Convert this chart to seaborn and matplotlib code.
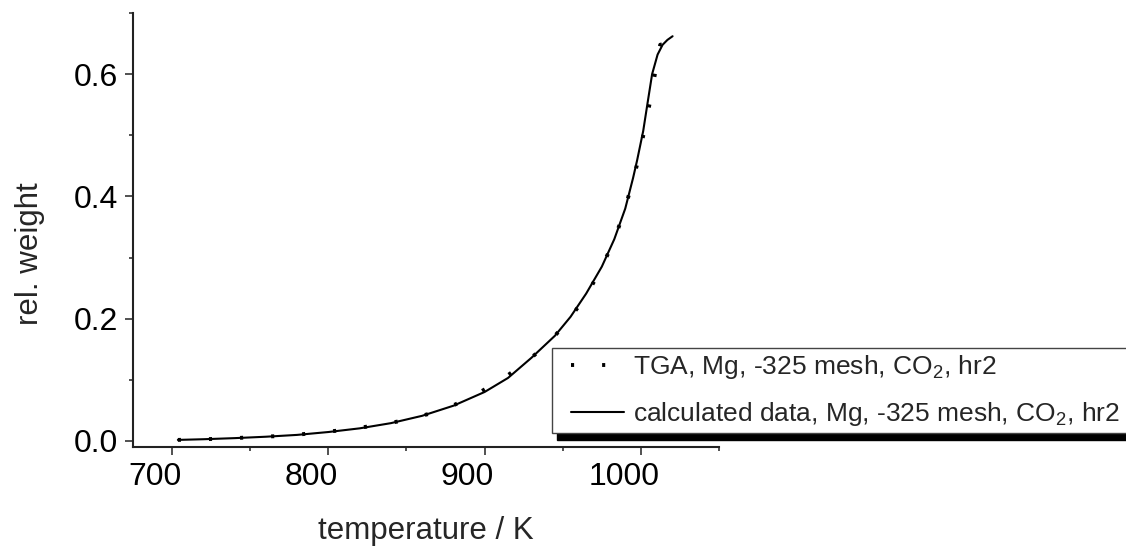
import numpy as np
import pandas as pd
import matplotlib
matplotlib.use("Agg")
import matplotlib.pyplot as plt
import matplotlib.transforms as mtransforms
from matplotlib.lines import Line2D
from matplotlib.legend_handler import HandlerLine2D
from matplotlib.ticker import FixedLocator, MultipleLocator, FormatStrFormatter
import seaborn as sns

# TGA measurement (temperature in K, relative weight)
tga_temp = [703.7, 721.8, 739.7, 758.1, 773.7, 792.3, 810.9, 828.7, 846.6, 864.1,
            881.4, 896.8, 912.0, 926.3, 941.0, 953.0, 964.3, 973.7, 981.9, 988.3,
            993.6, 998.3, 1002.1, 1005.8, 1009.0, 1012.4, 1014.5]
tga_weight = [0.0016, 0.0028, 0.0044, 0.0070, 0.0082, 0.0135, 0.0179, 0.0249, 0.0326, 0.0440,
              0.0598, 0.0794, 0.1022, 0.1283, 0.1602, 0.1956, 0.2342, 0.2776, 0.3222, 0.3672,
              0.4135, 0.4592, 0.5069, 0.5542, 0.6003, 0.6482, 0.6485]

# calculated curve
calc_temp = [703.7, 720, 740, 760, 780, 800, 820, 840, 860, 880, 900, 915, 930, 945,
             955, 965, 975, 983, 990, 995, 997.6, 1001.5, 1004.3, 1007.2, 1010.7, 1013.9,
             1017.0, 1020.3]
calc_weight = [0.0016, 0.0027, 0.0045, 0.0068, 0.0098, 0.0145, 0.0205, 0.0290, 0.0410, 0.0575,
               0.0800, 0.1030, 0.1360, 0.1720, 0.2030, 0.2410, 0.2850, 0.3300, 0.3800, 0.4300,
               0.4590, 0.5070, 0.5530, 0.6000, 0.6320, 0.6480, 0.6560, 0.6620]

tga_label = "TGA, Mg, -325 mesh, CO$_2$, hr2"
calc_label = "calculated data, Mg, -325 mesh, CO$_2$, hr2"


class OffsetLineHandler(HandlerLine2D):
    """Legend line that starts a bit into the handle box."""
    def __init__(self, offset, **kw):
        super().__init__(**kw)
        self.offset = offset

    def get_xdata(self, legend, xdescent, ydescent, width, height, fontsize):
        xdata = [-xdescent + self.offset, -xdescent + width]
        return xdata, [-xdescent + 0.5 * width]


sns.set_style("ticks")
plt.rcParams['font.family'] = ['Liberation Sans', 'DejaVu Sans']
plt.rcParams['mathtext.fontset'] = 'custom'
plt.rcParams['mathtext.rm'] = 'Liberation Sans'

fig = plt.figure(figsize=(11.26, 5.46), dpi=100)
ax = fig.add_axes([133 / 1126, 99 / 546, 586 / 1126, 434 / 546])

sns.lineplot(x=tga_temp, y=tga_weight, ax=ax, color='black', linewidth=2.8,
             sort=False, estimator=None, label=tga_label)
sns.lineplot(x=calc_temp, y=calc_weight, ax=ax, color='black', linewidth=1.5,
             sort=False, estimator=None, label=calc_label)
tga_line = ax.lines[0]
tga_line.set_linestyle((0, (0.8, 7.2)))
tga_line.set_dash_capstyle('butt')

ax.set_xlim(675, 1050)
ax.set_ylim(-0.01, 0.7)
ax.xaxis.set_major_locator(FixedLocator([700, 800, 900, 1000]))
ax.xaxis.set_minor_locator(FixedLocator([750, 850, 950, 1050]))
ax.yaxis.set_major_locator(FixedLocator([0.0, 0.2, 0.4, 0.6]))
ax.yaxis.set_minor_locator(MultipleLocator(0.1))
ax.yaxis.set_major_formatter(FormatStrFormatter('%.1f'))

for side in ['top', 'right']:
    ax.spines[side].set_visible(False)
for side in ['left', 'bottom']:
    ax.spines[side].set_linewidth(1.5)
    ax.spines[side].set_color('#222222')

ax.tick_params(axis='both', which='major', direction='out', length=5.8, width=1.1,
               color='#222222', labelsize=23, labelcolor='black', pad=5)
ax.tick_params(axis='both', which='minor', direction='out', length=3, width=1.1, color='#222222')

# tick labels in the reference sit left of their ticks
shift = mtransforms.ScaledTranslation(-0.17, 0, fig.dpi_scale_trans)
for tick in ax.xaxis.get_major_ticks():
    tick.label1.set_transform(tick.label1.get_transform() + shift)

ax.set_xlabel('temperature / K', fontsize=22.5)
ax.set_ylabel('rel. weight', fontsize=22.5)
ax.xaxis.set_label_coords(0.5, -0.158)
ax.yaxis.set_label_coords(-0.15, 0.445)

leg = ax.legend(loc='upper left', bbox_to_anchor=(552 / 1126, 1 - 348 / 546, 0.6, 0),
                bbox_transform=fig.transFigure, mode='expand', borderaxespad=0, fontsize=19,
                frameon=True, fancybox=False, framealpha=1, edgecolor='#444444',
                handlelength=2.52, handletextpad=0.34, borderpad=0.2, labelspacing=0.7,
                handler_map={Line2D: OffsetLineHandler(9.7)},
                shadow={'ox': 3.6, 'oy': -5, 'color': 'black', 'alpha': 1})
leg.get_frame().set_linewidth(1.0)

fig.savefig('out.png', dpi=100)
